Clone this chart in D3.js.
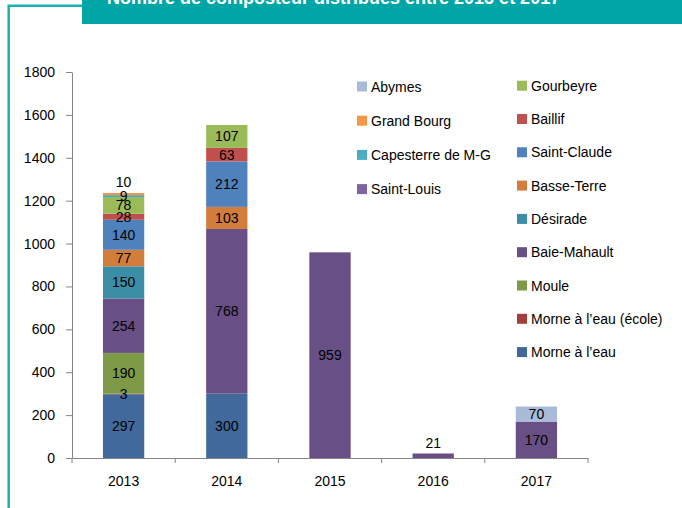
<!DOCTYPE html>
<html>
<head>
<meta charset="utf-8">
<script src="https://cdnjs.cloudflare.com/ajax/libs/d3/7.8.5/d3.min.js"></script>
<style>
	body { margin: 0; background: #fff; }
	svg text { font-family: "Liberation Sans", Arial, sans-serif; }
	.axis path, .axis line { stroke: #868686; }
	.axis text { font-size: 14px; fill: #000; }
</style>
</head>
<body>
<div id="chart-area"></div>
<script>
// data
var years = ["2013", "2014", "2015", "2016", "2017"];

// one array per commune, stack order bottom -> top
var morneAEau      = [297, 300, 0, 0, 0];
var morneEcole     = [3, 0, 0, 0, 0];
var moule          = [190, 0, 0, 0, 0];
var baieMahault    = [254, 768, 0, 0, 0];
var desirade       = [150, 0, 0, 0, 0];
var basseTerre     = [77, 103, 0, 0, 0];
var saintClaude    = [140, 212, 0, 0, 0];
var baillif        = [28, 63, 0, 0, 0];
var gourbeyre      = [78, 107, 0, 0, 0];
var capesterre     = [9, 0, 0, 0, 0];
var grandBourg     = [10, 0, 0, 0, 0];
var saintLouis     = [0, 0, 959, 21, 170];
var abymes         = [0, 0, 0, 0, 70];

var seriesNames = ["Morne à l’eau", "Morne à l’eau (école)", "Moule", "Baie-Mahault", "Désirade",
	"Basse-Terre", "Saint-Claude", "Baillif", "Gourbeyre", "Capesterre de M-G", "Grand Bourg",
	"Saint-Louis", "Abymes"];
var seriesValues = [morneAEau, morneEcole, moule, baieMahault, desirade, basseTerre, saintClaude,
	baillif, gourbeyre, capesterre, grandBourg, saintLouis, abymes];

var legendLeft = ["Abymes", "Grand Bourg", "Capesterre de M-G", "Saint-Louis"];
var legendRight = ["Gourbeyre", "Baillif", "Saint-Claude", "Basse-Terre", "Désirade",
	"Baie-Mahault", "Moule", "Morne à l’eau (école)", "Morne à l’eau"];

var yTicks = [0, 200, 400, 600, 800, 1000, 1200, 1400, 1600, 1800];

var title = "Nombre de composteur distribués entre 2013 et 2017";

// colours
var colors = {
	"Morne à l’eau": "#41699c",
	"Morne à l’eau (école)": "#a33e3b",
	"Moule": "#7e9a46",
	"Baie-Mahault": "#684f86",
	"Désirade": "#3b8ea5",
	"Basse-Terre": "#d27d3b",
	"Saint-Claude": "#4f81bd",
	"Baillif": "#c0504d",
	"Gourbeyre": "#9bbb59",
	"Capesterre de M-G": "#4bacc6",
	"Grand Bourg": "#f79646",
	"Saint-Louis": "#8064a2",
	"Abymes": "#a9bbd9"
};
// the Saint-Louis bars are drawn darker than its legend swatch
var barFill = { "Saint-Louis": "#684f86" };

var width = 682,
	height = 508;
var margin = { left: 72, right: 94, top: 72, bottom: 50 };

// build table for d3.stack
var table = years.map(function(y, i) {
	var row = { year: y };
	seriesNames.forEach(function(name, k) { row[name] = seriesValues[k][i]; });
	return row;
});

var stacked = d3.stack().keys(seriesNames)(table);

// total per year, to know which segment is on top
var totals = years.map(function(y, i) {
	return d3.sum(seriesValues, function(s) { return s[i]; });
});

var svg = d3.select("#chart-area")
	.append("svg")
	.attr("width", width)
	.attr("height", height);

// frame + title bar
svg.append("rect")
	.attr("x", 82).attr("y", 0)
	.attr("width", width - 82).attr("height", 24)
	.attr("fill", "#00a6a6");
svg.append("text")
	.attr("x", 107).attr("y", 4)
	.attr("fill", "#fff")
	.style("font-size", "18px")
	.style("font-weight", "bold")
	.text(title);
svg.append("path")
	.attr("d", "M8.7,508 V5.8 H82")
	.attr("fill", "none")
	.attr("stroke", "#1ab2ae")
	.attr("stroke-width", 2.5);

var xScale = d3.scaleBand()
	.domain(years)
	.range([margin.left, width - margin.right])
	.paddingInner(0.6)
	.paddingOuter(0.3);

var yScale = d3.scaleLinear()
	.domain([0, 1800])
	.range([height - margin.bottom, margin.top]);

// bars
var layers = svg.selectAll("g.layer")
	.data(stacked)
	.enter()
	.append("g")
	.attr("class", "layer")
	.attr("fill", function(d) { return barFill[d.key] || colors[d.key]; });

layers.selectAll("rect")
	.data(function(d) { return d.filter(function(s) { return s[1] - s[0] > 0; }); })
	.enter()
	.append("rect")
	.attr("x", function(d) { return xScale(d.data.year); })
	.attr("width", xScale.bandwidth())
	.attr("y", function(d) { return yScale(d[1]); })
	.attr("height", function(d) { return yScale(d[0]) - yScale(d[1]); });

// value labels
var labels = [];
stacked.forEach(function(layer) {
	layer.forEach(function(s, i) {
		var v = s[1] - s[0];
		if (v <= 0) return;
		var h = yScale(s[0]) - yScale(s[1]);
		var cy = (yScale(s[0]) + yScale(s[1])) / 2;
		// thin top segments get their label above the bar
		if (h < 6 && s[1] === totals[i]) cy = yScale(s[1]) - 11;
		labels.push({ x: xScale(s.data.year) + xScale.bandwidth() / 2, y: cy, v: v });
	});
});

svg.selectAll("text.val")
	.data(labels)
	.enter()
	.append("text")
	.attr("class", "val")
	.attr("x", function(d) { return d.x; })
	.attr("y", function(d) { return d.y; })
	.attr("dy", "0.36em")
	.attr("text-anchor", "middle")
	.style("font-size", "14px")
	.attr("fill", "#000")
	.text(function(d) { return d.v; });

// axes
var yAxis = d3.axisLeft(yScale)
	.tickValues(yTicks)
	.tickFormat(d3.format("d"))
	.tickSize(6)
	.tickSizeOuter(0)
	.tickPadding(11);

svg.append("g")
	.attr("class", "axis y-axis")
	.attr("transform", "translate(" + margin.left + ",0)")
	.call(yAxis);

var xAxis = d3.axisBottom(xScale)
	.tickSize(0)
	.tickPadding(18);

var xg = svg.append("g")
	.attr("class", "axis x-axis")
	.attr("transform", "translate(0," + yScale(0) + ")")
	.call(xAxis);

// category boundary ticks
var step = xScale.step();
var bounds = d3.range(years.length + 1).map(function(i) { return margin.left + i * step; });
xg.selectAll("line.bound")
	.data(bounds)
	.enter()
	.append("line")
	.attr("class", "bound")
	.attr("x1", function(d) { return d; })
	.attr("x2", function(d) { return d; })
	.attr("y1", 0)
	.attr("y2", 5);

// legend
function drawLegend(names, x, y0, dy) {
	var g = svg.append("g").selectAll("g")
		.data(names)
		.enter()
		.append("g")
		.attr("transform", function(d, i) { return "translate(" + x + "," + (y0 + i * dy) + ")"; });
	g.append("rect")
		.attr("x", 0).attr("y", -5)
		.attr("width", 10).attr("height", 10)
		.attr("fill", function(d) { return colors[d]; });
	g.append("text")
		.attr("x", 14)
		.attr("dy", "0.36em")
		.style("font-size", "14px")
		.attr("fill", "#000")
		.text(function(d) { return d; });
}
drawLegend(legendLeft, 357, 86.5, 34.2);
drawLegend(legendRight, 517, 85.7, 33.3);
</script>
</body>
</html>
